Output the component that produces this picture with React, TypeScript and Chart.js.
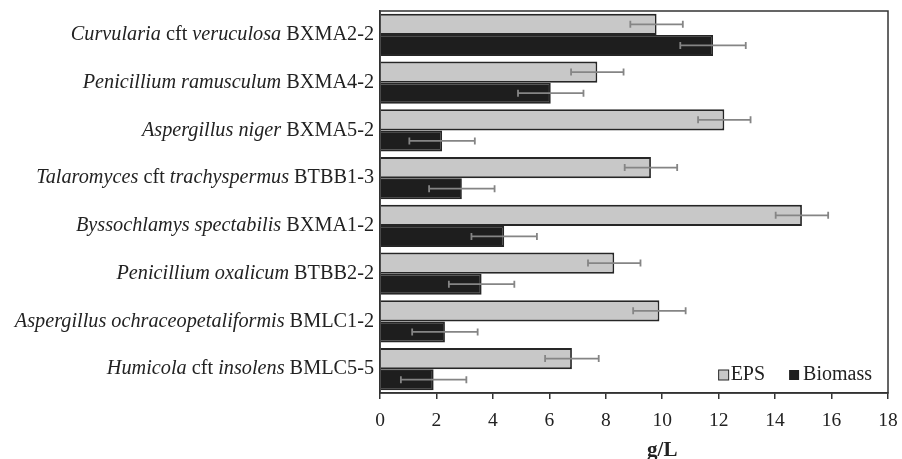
import React, { useEffect, useRef } from "react";
import { Chart, registerables } from "chart.js";
Chart.register(...registerables);

// Italic parts are wrapped in *...*
const categories = [
  "*Curvularia* cft *veruculosa* BXMA2-2",
  "*Penicillium ramusculum* BXMA4-2",
  "*Aspergillus niger* BXMA5-2",
  "*Talaromyces* cft *trachyspermus* BTBB1-3",
  "*Byssochlamys spectabilis* BXMA1-2",
  "*Penicillium oxalicum* BTBB2-2",
  "*Aspergillus ochraceopetaliformis* BMLC1-2",
  "*Humicola* cft *insolens* BMLC5-5",
];
const epsValues = [9.8, 7.7, 12.2, 9.6, 14.95, 8.3, 9.9, 6.8];
const epsErrors = [0.93, 0.93, 0.93, 0.93, 0.93, 0.93, 0.93, 0.95];
const biomassValues = [11.8, 6.05, 2.2, 2.9, 4.4, 3.6, 2.3, 1.9];
const biomassErrors = [1.16, 1.16, 1.16, 1.16, 1.16, 1.16, 1.16, 1.16];
const seriesNames = ["EPS", "Biomass"];
const xMin = 0;
const xMax = 18;
const xStep = 2;
const xTitle = "g/L";

const SERIF = '"Liberation Serif", "Times New Roman", serif';
const EPS_COLOR = "#c8c8c8";
const BIO_COLOR = "#1e1e1e";
const EDGE = "#262626";

const overlay = {
  id: "overlay",
  afterDatasetsDraw(chart: any) {
    const ctx = chart.ctx;
    const xs = chart.scales.x;
    const errs = [epsErrors, biomassErrors];
    ctx.save();
    ctx.strokeStyle = "#858585";
    ctx.lineWidth = 1.8;
    chart.data.datasets.forEach((ds: any, i: number) => {
      const meta = chart.getDatasetMeta(i);
      meta.data.forEach((el: any, j: number) => {
        const v = ds.data[j];
        const e = errs[i][j];
        const x1 = xs.getPixelForValue(v - e);
        const x2 = xs.getPixelForValue(v + e);
        const y = el.y;
        ctx.beginPath();
        ctx.moveTo(x1, y);
        ctx.lineTo(x2, y);
        ctx.moveTo(x1, y - 3.5);
        ctx.lineTo(x1, y + 3.5);
        ctx.moveTo(x2, y - 3.5);
        ctx.lineTo(x2, y + 3.5);
        ctx.stroke();
      });
    });
    ctx.restore();
  },
  afterDraw(chart: any) {
    const ctx = chart.ctx;
    const a = chart.chartArea;
    const ys = chart.scales.y;
    ctx.save();
    // frame
    ctx.strokeStyle = "#333";
    ctx.lineWidth = 1.5;
    ctx.strokeRect(a.left, a.top, a.right - a.left, a.bottom - a.top);

    // category labels with mixed italics
    ctx.fillStyle = "#222";
    ctx.textBaseline = "middle";
    ctx.textAlign = "left";
    categories.forEach((lab, j) => {
      const parts = lab.split("*");
      const fonts = parts.map((_, k) => (k % 2 === 1 ? "italic " : "") + "20.25px " + SERIF);
      let total = 0;
      const widths = parts.map((p, k) => {
        ctx.font = fonts[k];
        const w = ctx.measureText(p).width;
        total += w;
        return w;
      });
      let x = a.left - 6 - total;
      const y = ys.getPixelForValue(j);
      parts.forEach((p, k) => {
        ctx.font = fonts[k];
        ctx.fillText(p, x, y);
        x += widths[k];
      });
    });

    // legend (inside plot, bottom-right)
    ctx.font = "20px " + SERIF;
    ctx.textBaseline = "middle";
    const ly = a.bottom - 18;
    const bioW = ctx.measureText(seriesNames[1]).width;
    const bioTextX = a.right - 16 - bioW;
    const bioBoxX = bioTextX - 14;
    const epsW = ctx.measureText(seriesNames[0]).width;
    const epsTextX = bioBoxX - 24 - epsW;
    const epsBoxX = epsTextX - 12;
    ctx.lineWidth = 1;
    ctx.strokeStyle = EDGE;
    ctx.fillStyle = EPS_COLOR;
    ctx.fillRect(epsBoxX, ly - 5, 10, 10);
    ctx.strokeRect(epsBoxX, ly - 5, 10, 10);
    ctx.fillStyle = BIO_COLOR;
    ctx.fillRect(bioBoxX, ly - 5, 10, 10);
    ctx.fillStyle = "#222";
    ctx.fillText(seriesNames[0], epsTextX, ly);
    ctx.fillText(seriesNames[1], bioTextX, ly);

    // axis title
    ctx.font = "bold 21px " + SERIF;
    ctx.textAlign = "center";
    ctx.textBaseline = "alphabetic";
    ctx.fillText(xTitle, chart.scales.x.getPixelForValue(10), 456);
    ctx.restore();
  },
};

export default function App() {
  const ref = useRef<HTMLCanvasElement>(null);
  useEffect(() => {
    document.body.style.margin = "0";
    const chart = new Chart(ref.current as HTMLCanvasElement, {
      type: "bar",
      data: {
        labels: categories,
        datasets: [
          {
            label: seriesNames[0],
            data: epsValues,
            backgroundColor: EPS_COLOR,
            borderColor: EDGE,
            borderWidth: 1.8,
            borderSkipped: "start",
            categoryPercentage: 0.88,
            barPercentage: 1,
          },
          {
            label: seriesNames[1],
            data: biomassValues,
            backgroundColor: BIO_COLOR,
            borderColor: EDGE,
            borderWidth: 1.8,
            borderSkipped: "start",
            categoryPercentage: 0.88,
            barPercentage: 1,
          },
        ],
      },
      options: {
        indexAxis: "y",
        responsive: false,
        animation: false,
        layout: { padding: { left: 380, right: 14, top: 11, bottom: 0 } },
        plugins: { legend: { display: false }, tooltip: { enabled: false } },
        scales: {
          x: {
            type: "linear",
            min: xMin,
            max: xMax,
            ticks: {
              stepSize: xStep,
              font: { family: SERIF, size: 19.5 },
              color: "#222",
              padding: 10,
            },
            grid: { drawOnChartArea: false, drawTicks: true, tickLength: 6, color: "#333", lineWidth: 1.5 },
            border: { display: true, color: "#333", width: 1.5 },
            afterFit: (s: any) => {
              s.height = 66;
              s.paddingLeft = 0;
              s.paddingRight = 0;
            },
          },
          y: {
            ticks: { display: false },
            grid: { display: false },
            border: { display: true, color: "#333", width: 1.5 },
            afterFit: (s: any) => {
              s.width = 0;
            },
          },
        },
      },
      plugins: [overlay],
    } as any);
    return () => chart.destroy();
  }, []);
  return (
    <div style={{ width: 902, height: 459 }}>
      <canvas ref={ref} width={902} height={459} />
    </div>
  );
}
